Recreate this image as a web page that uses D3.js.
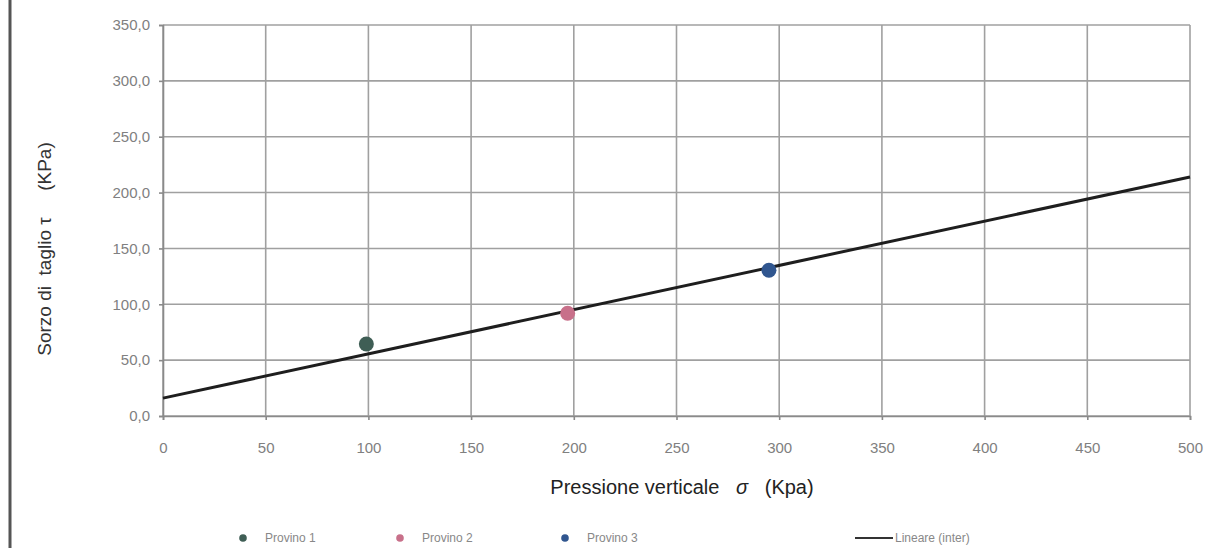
<!DOCTYPE html>
<html><head><meta charset="utf-8">
<script src="https://cdn.jsdelivr.net/npm/d3@7"></script>
<style>html,body{margin:0;padding:0;background:#fff;}svg{display:block;}</style>
</head><body>
<svg id="chart" width="1208" height="548"></svg>
<script>
const seriesNames = ["Provino 1", "Provino 2", "Provino 3"];
const seriesColors = ["#3f5e55", "#c8708a", "#30568f"];
const pointX = [99, 197, 295];
const pointY = [64.5, 92, 130.5];
const trendName = "Lineare (inter)";
const trendX = [0, 500];
const trendY = [16, 214];
const xTicks = [0, 50, 100, 150, 200, 250, 300, 350, 400, 450, 500];
const yTicks = [0, 50, 100, 150, 200, 250, 300, 350];

const FONT = "Liberation Sans, Arial, sans-serif";
const svg = d3.select("#chart");
const L = 163, R = 1190, T = 25, B = 416;
const x = d3.scaleLinear().domain([0, 500]).range([L, R]);
const y = d3.scaleLinear().domain([0, 350]).range([B, T]);

// left border
svg.append("line").attr("x1", 10).attr("x2", 10).attr("y1", 0).attr("y2", 548)
  .attr("stroke", "#555").attr("stroke-width", 3);

// grid
svg.append("g").selectAll("line").data(yTicks).join("line")
  .attr("x1", L).attr("x2", R).attr("y1", d => y(d)).attr("y2", d => y(d))
  .attr("stroke", "#a0a0a0").attr("stroke-width", 1.6);
svg.append("g").selectAll("line").data(xTicks).join("line")
  .attr("x1", d => x(d)).attr("x2", d => x(d)).attr("y1", T).attr("y2", B)
  .attr("stroke", "#a0a0a0").attr("stroke-width", 1.6);

// axes
const fmt = d => d3.format(".1f")(d).replace(".", ",");
const yAxis = d3.axisLeft(y).tickValues(yTicks).tickFormat(fmt).tickSize(4).tickPadding(9);
const xAxis = d3.axisBottom(x).tickValues(xTicks).tickFormat(d3.format("d")).tickSize(4).tickPadding(22);
const gy = svg.append("g").attr("transform", `translate(${L},0)`).call(yAxis);
const gx = svg.append("g").attr("transform", `translate(0,${B})`).call(xAxis);
[gy, gx].forEach(g => {
  g.select(".domain").attr("stroke", "#8a8a8a").attr("stroke-width", 1.6);
  g.selectAll(".tick line").attr("stroke", "#8a8a8a").attr("stroke-width", 1.6);
  g.selectAll(".tick text").attr("fill", "#808080").attr("font-family", FONT).attr("font-size", 15);
});

// trend line
svg.append("path")
  .datum(trendX.map((d, i) => [d, trendY[i]]))
  .attr("d", d3.line().x(d => x(d[0])).y(d => y(d[1])))
  .attr("stroke", "#1e1e1e").attr("stroke-width", 3).attr("fill", "none");

// points
svg.append("g").selectAll("circle").data(pointX).join("circle")
  .attr("cx", d => x(d)).attr("cy", (d, i) => y(pointY[i])).attr("r", 7.5)
  .attr("fill", (d, i) => seriesColors[i]);

// axis titles
svg.append("text").attr("transform", "translate(51,249) rotate(-90)")
  .attr("text-anchor", "middle").attr("font-family", FONT)
  .attr("font-size", 19).attr("fill", "#333").attr("xml:space", "preserve")
  .text("Sorzo di  taglio \u03c4     (KPa)");
const xt = svg.append("text").attr("x", 682).attr("y", 494)
  .attr("text-anchor", "middle").attr("font-family", FONT)
  .attr("font-size", 20).attr("fill", "#222").attr("xml:space", "preserve");
xt.append("tspan").text("Pressione verticale   ");
xt.append("tspan").attr("font-style", "italic").text("\u03c3");
xt.append("tspan").text("   (Kpa)");

// legend
const legX = [243, 400, 565];
const LY = 538;
const lg = svg.append("g");
seriesNames.forEach((n, i) => {
  lg.append("circle").attr("cx", legX[i]).attr("cy", LY).attr("r", 3.8).attr("fill", seriesColors[i]);
  lg.append("text").attr("x", legX[i] + 22).attr("y", LY + 4).text(n)
    .attr("font-family", FONT).attr("font-size", 12).attr("fill", "#888");
});
lg.append("line").attr("x1", 855).attr("x2", 893).attr("y1", LY).attr("y2", LY)
  .attr("stroke", "#333").attr("stroke-width", 2.2);
lg.append("text").attr("x", 895).attr("y", LY + 4).text(trendName)
  .attr("font-family", FONT).attr("font-size", 12).attr("fill", "#888");
</script>
</body></html>
